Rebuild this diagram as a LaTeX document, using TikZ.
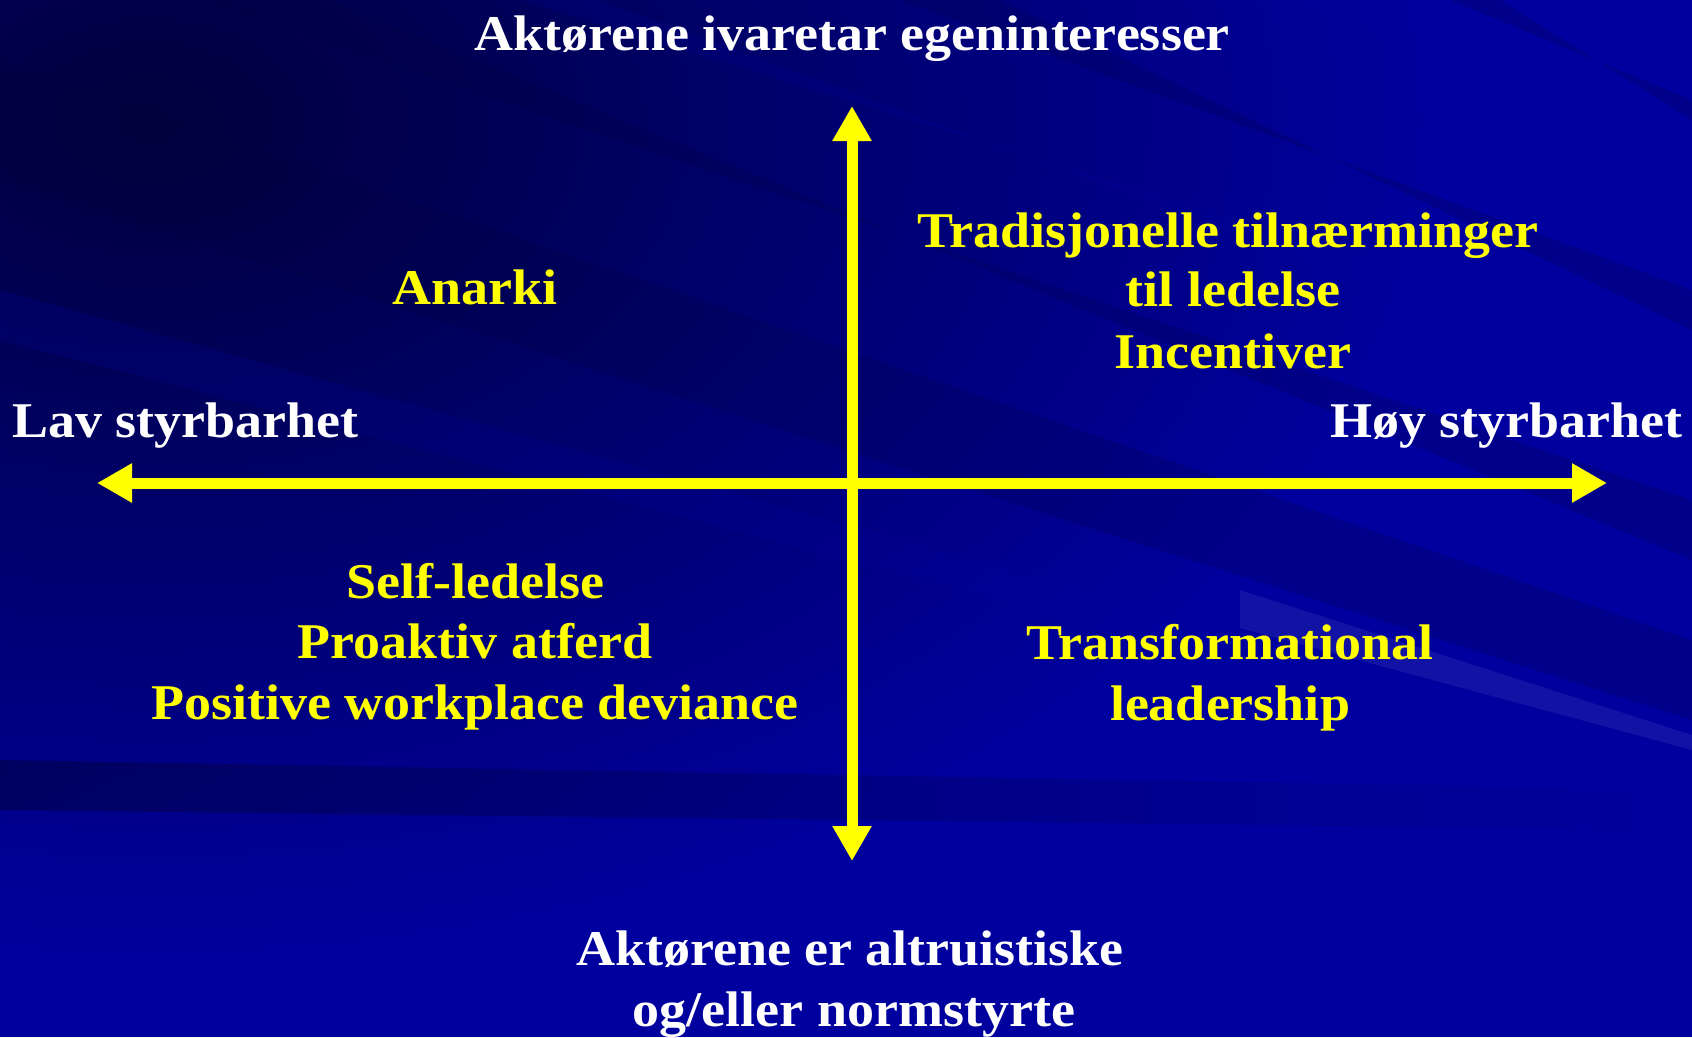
\documentclass[tikz,border=0pt]{standalone}
\usepackage{fontspec}
\setmainfont[FakeStretch=1.08]{Liberation Serif}
\usetikzlibrary{arrows.meta}
\definecolor{bgdark}{RGB}{0,0,60}
\definecolor{bgmid}{RGB}{0,0,125}
\definecolor{bglight}{RGB}{0,0,158}
\definecolor{axisyellow}{RGB}{255,255,0}
\tikzset{
  axisline/.style={draw=axisyellow, line width=11pt,
    arrows={Triangle[width=37pt,length=35pt]-Triangle[width=37pt,length=35pt]}},
  lbl/.style={anchor=base, inner sep=0pt, font=\fontsize{50}{60}\selectfont\bfseries},
  wlbl/.style={lbl, text=white},
  ylbl/.style={lbl, text=axisyellow},
  band/.style={fill=bgdark, opacity=0.2},
  lband/.style={fill=bglight, opacity=0.2},
}
\begin{document}
\begin{tikzpicture}[x=1pt,y=-1pt]
\useasboundingbox (0,0) rectangle (1692,1037);
% background
\begin{scope}
\clip (0,0) rectangle (1692,1037);
\fill[bglight] (0,0) rectangle (1692,1037);
\shade[inner color=bgdark, outer color=bglight] (150,120) ellipse (1300 and 850);
\fill[band] (0,60) -- (0,180) -- (1692,720) -- (1692,640) -- cycle;
\fill[lband] (0,290) -- (0,340) -- (1692,780) -- (1692,760) -- cycle;
\fill[band] (200,0) -- (330,0) -- (1692,560) -- (1692,500) -- cycle;
\fill[lband] (520,0) -- (600,0) -- (1692,400) -- (1692,360) -- cycle;
\fill[band] (900,0) -- (1000,0) -- (1692,330) -- (1692,290) -- cycle;
\fill[lband] (1300,0) -- (1380,0) -- (1692,200) -- (1692,160) -- cycle;
\fill[band] (1450,0) -- (1500,0) -- (1692,120) -- (1692,100) -- cycle;
\shade[left color=bgdark, right color=bglight, opacity=0.5] (0,760) -- (1692,790) -- (1692,830) -- (0,810) -- cycle;
\fill[white, opacity=0.07] (1240,590) -- (1692,735) -- (1692,750) -- (1240,628) -- cycle;
\end{scope}
% axes
\coordinate (L) at (97,483);
\coordinate (R) at (1607,483);
\coordinate (T) at (852,106);
\coordinate (B) at (852,861);
\draw[axisline] (L) -- (R);
\draw[axisline] (B) -- (T);
% labels
\node[wlbl] (top) at (852,50) {Aktørene ivaretar egeninteresser};
\node[wlbl, anchor=base west] (lav) at (12,437) {Lav styrbarhet};
\node[wlbl, anchor=base east] (hoy) at (1683,437) {Høy styrbarhet};
\node[wlbl] (bot1) at (850,965) {Aktørene er altruistiske};
\node[wlbl] (bot2) at (854,1026) {og/eller normstyrte};
\node[ylbl] (anarki) at (475,304) {Anarki};
\node[ylbl] (tr1) at (1228,247) {Tradisjonelle tilnærminger};
\node[ylbl] (tr2) at (1233,306) {til ledelse};
\node[ylbl] (tr3) at (1233,368) {Incentiver};
\node[ylbl] (bl1) at (475,598) {Self-ledelse};
\node[ylbl] (bl2) at (475,658) {Proaktiv atferd};
\node[ylbl] (bl3) at (475,719) {Positive workplace deviance};
\node[ylbl] (br1) at (1230,659) {Transformational};
\node[ylbl] (br2) at (1230,720) {leadership};
\end{tikzpicture}
\end{document}
